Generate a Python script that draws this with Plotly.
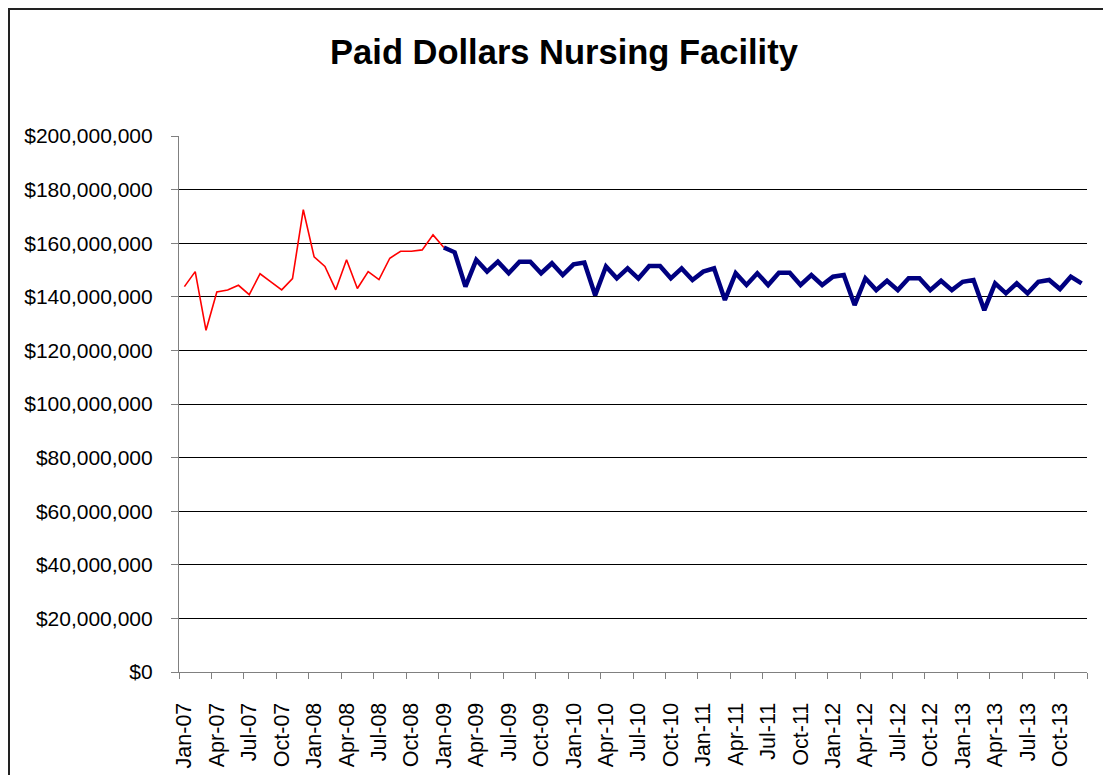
import plotly.graph_objects as go

# Month categories Jan-07 .. Dec-13
month_names = ["Jan", "Feb", "Mar", "Apr", "May", "Jun", "Jul", "Aug", "Sep", "Oct", "Nov", "Dec"]
years = ["07", "08", "09", "10", "11", "12", "13"]
months = [f"{m}-{y}" for y in years for m in month_names]

# Historical (red) series: Jan-07 .. Jan-09, in $ millions
red_values = [143.8, 149.4, 127.5, 141.8, 142.5, 144.3, 140.8, 148.6, 145.6, 142.6,
              146.8, 172.5, 154.9, 151.3, 142.6, 153.8, 143.1, 149.4, 146.4, 154.4,
              157.0, 157.0, 157.5, 163.1, 158.4]

# Projected (navy) series: Jan-09 .. Dec-13, in $ millions
blue_values = [158.4, 156.6, 143.8, 153.8, 149.4, 153.1, 148.8, 153.1, 153.1, 148.8,
               152.5, 148.1, 152.1, 152.8, 140.6, 151.3, 146.9, 150.6, 146.8, 151.5,
               151.5, 146.9, 150.6, 146.3, 149.4, 150.6, 138.8, 148.8, 144.4, 148.8,
               144.4, 149.0, 149.0, 144.4, 148.1, 144.4, 147.5, 148.1, 136.9, 146.9,
               142.5, 146.0, 142.5, 146.9, 146.9, 142.5, 146.0, 142.5, 145.6, 146.3,
               135.0, 145.0, 141.3, 145.0, 141.3, 145.6, 146.3, 142.9, 147.5, 145.0]

red_start = 0
blue_start = 24

y_ticks = list(range(0, 200_000_001, 20_000_000))
label_idx = list(range(0, len(months), 3))

fig = go.Figure()
fig.add_trace(go.Scatter(
    x=[red_start + i for i in range(len(red_values))],
    y=[v * 1e6 for v in red_values],
    mode="lines", line=dict(color="#ff0000", width=1.6),
    customdata=months[red_start:red_start + len(red_values)],
    hovertemplate="%{customdata}: %{y:$,.0f}<extra></extra>",
    showlegend=False))
fig.add_trace(go.Scatter(
    x=[blue_start + i for i in range(len(blue_values))],
    y=[v * 1e6 for v in blue_values],
    mode="lines", line=dict(color="#000080", width=4.5),
    customdata=months[blue_start:blue_start + len(blue_values)],
    hovertemplate="%{customdata}: %{y:$,.0f}<extra></extra>",
    showlegend=False))

# page body has an 8px margin, so figure coordinates are shifted by 8px
OFF = 8
L, R, T, B = 179 - OFF, 1087 - OFF, 136 - OFF, 672 - OFF
W, H = 1111 - OFF, 775 - OFF
pw, ph = R - L, B - T

fig.update_layout(
    width=W, height=H,
    margin=dict(l=L, r=W - R, t=T, b=H - B, pad=0, autoexpand=False),
    paper_bgcolor="white", plot_bgcolor="white",
    font=dict(family="Arial, Liberation Sans, sans-serif", color="black", size=20),
    title=dict(text="<b>Paid Dollars Nursing Facility</b>", x=(564 - OFF) / W, xanchor="center",
               y=1 - (52 - OFF) / H, yanchor="middle",
               font=dict(size=34.5, family="Arial, Liberation Sans, sans-serif", color="black")),
    xaxis=dict(
        range=[-0.5, len(months) - 0.5], automargin=False,
        tickmode="array", tickvals=label_idx, ticktext=[months[i] for i in label_idx],
        tickangle=-90, ticks="", showgrid=False, zeroline=False,
        showline=True, linecolor="#808080", linewidth=1.2,
        tickfont=dict(size=21.5), ticklabelstandoff=21,
        minor=dict(tickmode="linear", tick0=-0.5, dtick=3, ticks="outside",
                   ticklen=6, tickcolor="#808080", tickwidth=1.2, showgrid=False),
    ),
    yaxis=dict(
        range=[0, 200_000_000], tickmode="array", tickvals=y_ticks, automargin=False,
        tickformat="$,.0f", showgrid=True, gridcolor="#000000", gridwidth=1,
        zeroline=False, showline=True, linecolor="#808080", linewidth=1.2,
        ticks="outside", ticklen=7, tickcolor="#808080", tickwidth=1.2,
        tickfont=dict(size=21), ticklabelstandoff=14,
    ),
)

# outer chart border (left and top edges visible in the frame)
fig.add_shape(type="rect", xref="paper", yref="paper",
              x0=(1 - L) / pw, x1=(W + 10 - L) / pw,
              y0=(B - (H + 10)) / ph, y1=(B - 1) / ph,
              line=dict(color="#222222", width=2), fillcolor="rgba(0,0,0,0)", layer="below")

fig.write_html("out.html")
